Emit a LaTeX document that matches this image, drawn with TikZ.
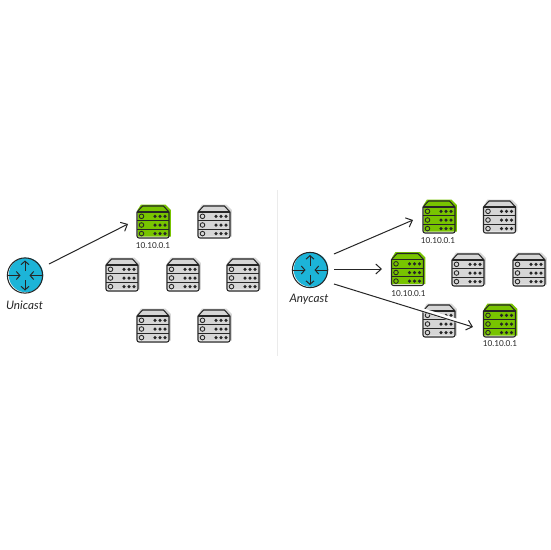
\documentclass[tikz,border=0pt]{standalone}
\usepackage{fontspec}
\setmainfont{Lato}
\usetikzlibrary{arrows.meta}
\definecolor{ink}{HTML}{262626}
\definecolor{grayfill}{HTML}{D6D6D6}
\definecolor{greenfill}{HTML}{78C400}
\definecolor{bluefill}{HTML}{1CB4D8}
\definecolor{divider}{HTML}{EBEBEB}
\tikzset{
  anchorbox/.style={inner sep=0pt,outer sep=0pt,minimum width=32pt,minimum height=32pt},
  arr/.style={draw=ink,line width=1pt,-{Straight Barb[length=5.5pt,width=10pt,line width=1pt]}},
  smallarr/.style={draw=ink,line width=1pt,-{Straight Barb[length=3.5pt,width=8pt,line width=1pt]}},
  halo/.style={draw=white,line width=4pt},
  iconline/.style={draw=ink,line width=1.05pt},
  iplabel/.style={font=\fontsize{8.2}{10}\selectfont,text=ink,inner sep=0pt},
  caption/.style={font=\itshape\fontsize{11.7}{14}\selectfont,text=ink,inner sep=0pt},
  server/.pic={
    \fill[fill=#1] (-12,-17.5)--(12.5,-17.5)--(17.8,-12)--(17.8,14.5)--(-15.5,14.5)--(-15.5,-12)--cycle;
    \draw[iconline,line join=round] (-16,-10)--(-10.5,-16)--(10.5,-16)--(16,-10)--(16,14)
       arc[start angle=0,end angle=90,radius=2]--(-14,16)
       arc[start angle=90,end angle=180,radius=2]--cycle;
    \draw[iconline] (-16,-10)--(16,-10) (-16,-1.3)--(16,-1.3) (-16,7.3)--(16,7.3);
    \foreach \yy in {-5.7,3,11.6}{
      \draw[iconline,line width=0.85pt] (-11.5,\yy) circle (2.3);
      \foreach \xx in {2,7,12} \fill[ink] (\xx,\yy) circle (1.75);
    }
  }
}
\newcommand{\srv}[4]{% name, x, y, colour
  \path (#2,#3) pic {server=#4};
  \node[anchorbox] (#1) at (#2,#3) {};
}
\newcommand{\rtr}[3]{%
  \begin{scope}[shift={(#2,#3)}]
    \fill[bluefill] (1,-0.5) circle (17.3);
    \draw[iconline] (0,0) circle (17.6);
    \draw[smallarr] (0,-4.5)--(0,-15);
    \draw[smallarr] (0,4.5)--(0,15);
    \draw[smallarr] (-17.6,0)--(-4.5,0);
    \draw[smallarr] (17.6,0)--(4.5,0);
  \end{scope}
  \node[anchorbox,minimum width=36pt,minimum height=36pt] (#1) at (#2,#3) {};
}
\begin{document}
\begin{tikzpicture}[x=1pt,y=-1pt]
\useasboundingbox (0,0) rectangle (550,550);
\fill[white] (0,0) rectangle (550,550);
\coordinate (dtop) at (277,190);
\coordinate (dbot) at (277,356);
\draw[divider,line width=0.8pt] (dtop)--(dbot);
% Unicast
\rtr{ru}{25}{275.5}
\node[caption] (cu) at (24.5,305) {Unicast};
\srv{ua}{153}{222}{greenfill}
\node[iplabel] (ipa) at (153,246) {10.10.0.1};
\srv{ub}{214}{222}{grayfill}
\srv{uc}{122}{275}{grayfill}
\srv{ud}{183}{275}{grayfill}
\srv{ue}{243}{275}{grayfill}
\srv{uf}{153}{326}{grayfill}
\srv{ug}{214}{326}{grayfill}
\draw[arr] ([shift={(24,-11.5)}]ru.center) -- ([shift={(-9,2)}]ua.west);
% Anycast
\rtr{ra}{310}{270}
\node[caption] (ca) at (309,299) {Anycast};
\srv{aa}{439}{217}{greenfill}
\node[iplabel] (ipb) at (438,240.5) {10.10.0.1};
\srv{ab}{499.5}{217}{grayfill}
\srv{ac}{407.5}{269.5}{greenfill}
\node[iplabel] (ipc) at (408.5,293.5) {10.10.0.1};
\srv{ad}{468}{270}{grayfill}
\srv{ae}{529}{270}{grayfill}
\srv{af}{439}{321}{grayfill}
\srv{ag}{499.5}{321}{greenfill}
\node[iplabel] (ipd) at (500,343.5) {10.10.0.1};
\draw[arr] ([shift={(24,-16)}]ra.center) -- ([shift={(-10,3)}]aa.west);
\draw[arr] ([shift={(24,-1)}]ra.center) -- ([shift={(-9.5,-0.5)}]ac.west);
\draw[halo,shorten <=84pt,shorten >=11pt,transform canvas={yshift=1.2pt}] ([shift={(24,14)}]ra.center) -- ([shift={(-10.5,6)}]ag.west);
\draw[arr] ([shift={(24,14)}]ra.center) -- ([shift={(-10.5,6)}]ag.west);
\end{tikzpicture}
\end{document}
